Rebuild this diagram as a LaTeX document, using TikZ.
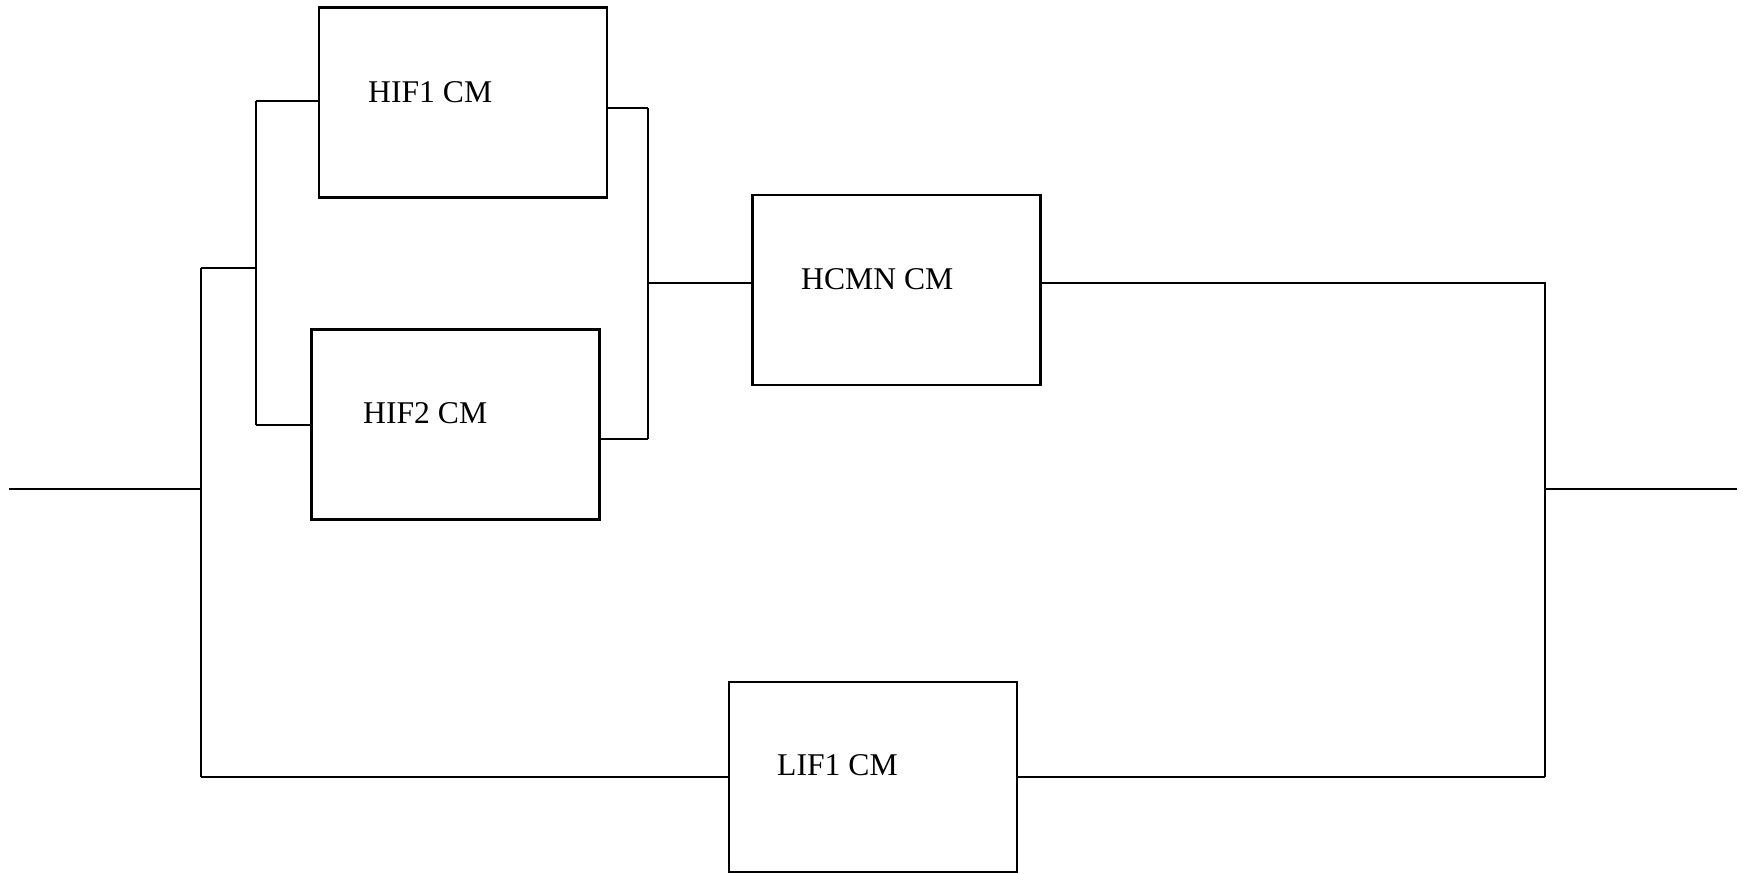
\documentclass[tikz,border=0pt]{standalone}
\usepackage{fontspec}
\setmainfont{Liberation Serif}
\begin{document}
\begin{tikzpicture}[x=0.01cm,y=-0.01cm,line width=0.7pt,
  blk/.style={draw,rectangle,inner sep=0pt,outer sep=0pt,minimum width=2.88cm,minimum height=1.9cm},
  lbl/.style={anchor=west,inner sep=0pt,font=\fontsize{9}{10}\selectfont}]
\useasboundingbox (0,0) rectangle (1743,874);
% blocks
\node[blk] (hif1) at (463,102.5) {};
\node[blk] (hif2) at (455.5,424.5) {};
\node[blk] (hcmn) at (896.5,290) {};
\node[blk] (lif1) at (873,777) {};
% labels
\node[lbl] (t1) at (367,92) {HIF1 CM};
\node[lbl] (t2) at (362,413) {HIF2 CM};
\node[lbl] (t3) at (800,279) {HCMN CM};
\node[lbl] (t4) at (776,765) {LIF1 CM};
% coordinates
\coordinate (in) at (9,489);
\coordinate (lv) at (201,489);
\coordinate (lt) at (201,268);
\coordinate (lb) at (201,777);
\coordinate (st) at (256,268);
\coordinate (b1) at (256,101);
\coordinate (b2) at (256,425);
\coordinate (r1) at (648,108);
\coordinate (r2) at (648,439);
\coordinate (rm) at (648,283);
\coordinate (rt) at (1545,283);
\coordinate (rv) at (1545,489);
\coordinate (rb) at (1545,777);
\coordinate (out) at (1737,489);
% connectors
\draw (in) -- (lv);
\draw (lt) -- (lb);
\draw (lt) -- (st);
\draw (b1) -- (b2);
\draw (b1) -- (b1 -| hif1.west);
\draw (b2) -- (b2 -| hif2.west);
\draw (r1 -| hif1.east) -- (r1);
\draw (r2 -| hif2.east) -- (r2);
\draw (r1) -- (r2);
\draw (rm) -- (rm -| hcmn.west);
\draw (rt -| hcmn.east) -- (rt) -- (rb);
\draw (rv) -- (out);
\draw (lb) -- (lb -| lif1.west);
\draw (rb -| lif1.east) -- (rb);
\end{tikzpicture}
\end{document}
